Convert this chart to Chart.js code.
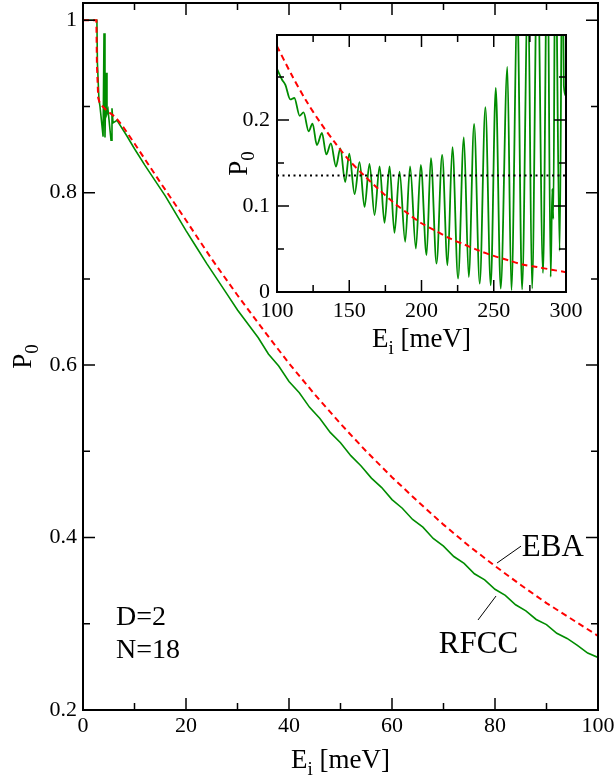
<!DOCTYPE html>
<html>
<head>
<meta charset="utf-8">
<script src="https://cdn.jsdelivr.net/npm/chart.js@4.4.1/dist/chart.umd.min.js"></script>
<style>
  body { margin: 0; background: #fff; }
  #wrap { position: relative; width: 616px; height: 776px; }
  #main { position: absolute; left: 0; top: 0; }
  #inset { position: absolute; left: 200px; top: 0; }
</style>
</head>
<body>
<div id="wrap">
  <canvas id="main" width="616" height="776"></canvas>
  <canvas id="inset" width="416" height="360"></canvas>
</div>
<script>
// ---- main panel, E_i 0..100 meV ----
var ebaE = [0, 2.6, 2.7, 2.95, 3.3, 4.5, 6.2, 7.5, 10, 15, 20, 25, 30, 35, 40, 45, 50,
  55, 60, 65, 70, 75, 80, 85, 90, 95, 100];
var ebaP = [1.0, 1.0, 0.95, 0.91, 0.903, 0.896, 0.888, 0.879, 0.857, 0.812, 0.768, 0.723, 0.681, 0.641, 0.602, 0.566, 0.532,
  0.500, 0.470, 0.442, 0.415, 0.390, 0.367, 0.345, 0.324, 0.305, 0.286];

var rfccE = [0, 2.7, 2.8, 3.1, 3.3, 3.9, 4.08, 4.27, 4.47, 4.66, 4.86, 5.44, 5.63, 5.83, 6.6, 8.5,
  10, 12, 14, 16, 18, 20, 22, 24, 26, 28, 30, 32, 34, 36, 38, 40, 42, 44, 46, 48, 50,
  52, 54, 56, 58, 60, 62, 64, 66, 68, 70, 72, 74, 76, 78, 80, 82, 84, 86, 88, 90,
  92, 94, 96, 98, 100];
var rfccP = [1.0, 1.0, 0.95, 0.908, 0.900, 0.865, 0.985, 0.864, 0.939, 0.892, 0.896, 0.861, 0.898, 0.881, 0.884, 0.866,
  0.851, 0.832, 0.814, 0.796, 0.776, 0.756, 0.737, 0.718, 0.700, 0.682, 0.664, 0.648, 0.632, 0.613, 0.599, 0.581, 0.568, 0.551, 0.538, 0.522, 0.510,
  0.495, 0.483, 0.469, 0.458, 0.444, 0.434, 0.421, 0.412, 0.399, 0.390, 0.378, 0.370, 0.358, 0.351, 0.340, 0.333, 0.322, 0.315, 0.305, 0.299,
  0.289, 0.283, 0.275, 0.266, 0.261];

// ---- inset, E_i 100..300 meV ----
var insetEbaE = [100, 110, 120, 130, 140, 150, 160, 170, 180, 190, 200,
  210, 220, 230, 240, 250, 260, 270, 280, 290, 300];
var insetEbaP = [0.286, 0.253, 0.223, 0.197, 0.174, 0.153, 0.136, 0.120, 0.105, 0.092, 0.080,
  0.071, 0.062, 0.055, 0.048, 0.042, 0.037, 0.032, 0.029, 0.026, 0.023];

var insetRfccE = [100, 103.5, 105.8, 109.2, 112, 115.7, 118.4, 121.9, 124.6, 127.6, 131.1, 134.1, 137.3,
  140.8, 143.8, 147.2, 150, 153.7, 157.1, 160.6, 164, 167.5, 171, 174.4, 177.9, 181.3, 184.8,
  188.7, 192.1, 196.1, 199.5, 203.5, 206.5, 210.4, 214.3, 218, 221.4, 225.3, 229.3, 232.7,
  236.4, 240.3, 244.2, 247.9, 251.4, 254.8, 259.4, 262.2, 266.3, 269.6, 273.7, 276.5, 280.2,
  284.1, 287.1, 289.4, 290.5, 291.2, 292.6, 295.6, 297.5, 298.5, 300];
var insetRfccP = [0.2595, 0.247, 0.241, 0.224, 0.2257, 0.205, 0.209, 0.187, 0.196, 0.171, 0.185, 0.160, 0.173,
  0.146, 0.167, 0.128, 0.161, 0.114, 0.151, 0.099, 0.149, 0.0895, 0.146, 0.0805, 0.146, 0.0689, 0.140,
  0.0584, 0.146, 0.0506, 0.148, 0.0428, 0.1556, 0.0331, 0.1595, 0.0311, 0.1685, 0.0156, 0.180, 0.0175,
  0.1957, 0.0097, 0.2152, 0.0078, 0.2374, 0.0039, 0.2619, 0.002, 0.33, 0.003, 0.36, 0.004, 0.40,
  0.022, 0.42, 0.0175, 0.12, 0.085, 0.42, 0.048, 0.42, 0.24, 0.228];

var dotE = [100, 300];
var dotP = [0.1354, 0.1354];

// tick labels
var mainXLabels = [0, 20, 40, 60, 80, 100];
var mainYLabels = [0.2, 0.4, 0.6, 0.8, 1];
var insetXLabels = [100, 150, 200, 250, 300];
var insetYLabels = [0, 0.1, 0.2];

var GREEN = '#008c00';
var RED = '#ff0000';
var FONT = 'Liberation Serif';

Chart.defaults.font.family = FONT;
Chart.defaults.color = '#000';

function pts(xs, ys) {
  return xs.map(function (x, i) { return { x: x, y: ys[i] }; });
}

function labelFrom(list) {
  return function (v) {
    var r = Math.round(v * 1000) / 1000;
    return list.indexOf(r) >= 0 ? String(r) : '';
  };
}

// keep the plot box where we put it, whatever the label sizes
function fixX(h) {
  return function (s) { s.height = h; s.paddingLeft = 0; s.paddingRight = 0; };
}
function fixY(w) {
  return function (s) { s.width = w; s.paddingTop = 0; s.paddingBottom = 0; };
}

// inward ticks on all four sides plus the box
function drawFrame(chart, major, minor) {
  var ctx = chart.ctx, a = chart.chartArea;
  var xs = chart.scales.x, ys = chart.scales.y;
  ctx.save();
  ctx.strokeStyle = '#000';
  ctx.lineWidth = 1.5;
  ctx.beginPath();
  xs.ticks.forEach(function (t) {
    var px = xs.getPixelForValue(t.value);
    var len = t.label ? major : minor;
    ctx.moveTo(px, a.bottom); ctx.lineTo(px, a.bottom - len);
    ctx.moveTo(px, a.top); ctx.lineTo(px, a.top + len);
  });
  ys.ticks.forEach(function (t) {
    var py = ys.getPixelForValue(t.value);
    var len = t.label ? major : minor;
    ctx.moveTo(a.left, py); ctx.lineTo(a.left + len, py);
    ctx.moveTo(a.right, py); ctx.lineTo(a.right - len, py);
  });
  ctx.stroke();
  ctx.lineWidth = 2;
  ctx.strokeRect(a.left, a.top, a.right - a.left, a.bottom - a.top);
  ctx.restore();
}

// text with a subscript, centred on (x, y) baseline, optionally rotated
function subText(ctx, main, sub, rest, size, x, y, rot) {
  ctx.save();
  ctx.translate(x, y);
  if (rot) ctx.rotate(rot);
  ctx.fillStyle = '#000';
  ctx.textBaseline = 'alphabetic';
  ctx.textAlign = 'left';
  var big = size + 'px ' + FONT, small = Math.round(size * 0.7) + 'px ' + FONT;
  ctx.font = big;
  var w1 = ctx.measureText(main).width;
  var w3 = rest ? ctx.measureText(rest).width : 0;
  ctx.font = small;
  var w2 = ctx.measureText(sub).width;
  var x0 = -(w1 + w2 + w3) / 2;
  ctx.font = big;
  ctx.fillText(main, x0, 0);
  ctx.font = small;
  ctx.fillText(sub, x0 + w1, size * 0.27);
  if (rest) {
    ctx.font = big;
    ctx.fillText(rest, x0 + w1 + w2, 0);
  }
  ctx.restore();
}

var mainDecor = {
  id: 'mainDecor',
  afterDraw: function (chart) {
    var ctx = chart.ctx, xs = chart.scales.x, ys = chart.scales.y, a = chart.chartArea;
    drawFrame(chart, 12, 7);
    subText(ctx, 'E', 'i', ' [meV]', 27, (a.left + a.right) / 2, 768, 0);
    subText(ctx, 'P', '0', '', 27, 31, (a.top + a.bottom) / 2, -Math.PI / 2);

    ctx.save();
    ctx.fillStyle = '#000';
    ctx.textAlign = 'left';
    ctx.textBaseline = 'alphabetic';
    ctx.font = '28px ' + FONT;
    ctx.fillText('D=2', xs.getPixelForValue(6.4), ys.getPixelForValue(0.2986));
    ctx.fillText('N=18', xs.getPixelForValue(6.4), ys.getPixelForValue(0.260));
    ctx.font = '31px ' + FONT;
    ctx.fillText('EBA', xs.getPixelForValue(85.2), ys.getPixelForValue(0.379));
    ctx.fillText('RFCC', xs.getPixelForValue(69.1), ys.getPixelForValue(0.2658));
    ctx.strokeStyle = '#000';
    ctx.lineWidth = 1;
    ctx.beginPath();
    ctx.moveTo(xs.getPixelForValue(80.4), ys.getPixelForValue(0.3705));
    ctx.lineTo(xs.getPixelForValue(85.05), ys.getPixelForValue(0.390));
    ctx.moveTo(xs.getPixelForValue(76.7), ys.getPixelForValue(0.3044));
    ctx.lineTo(xs.getPixelForValue(80.2), ys.getPixelForValue(0.3322));
    ctx.stroke();
    ctx.restore();
  }
};

var insetDecor = {
  id: 'insetDecor',
  afterDraw: function (chart) {
    var ctx = chart.ctx, a = chart.chartArea;
    drawFrame(chart, 12, 7);
    subText(ctx, 'E', 'i', ' [meV]', 27, (a.left + a.right) / 2, 347, 0);
    subText(ctx, 'P', '0', '', 27, a.left - 30, (a.top + a.bottom) / 2, -Math.PI / 2);
  }
};

new Chart(document.getElementById('main'), {
  type: 'line',
  data: {
    datasets: [
      { label: 'EBA', data: pts(ebaE, ebaP), borderColor: RED, borderWidth: 2,
        borderDash: [6, 4], pointRadius: 0, tension: 0 },
      { label: 'RFCC', data: pts(rfccE, rfccP), borderColor: GREEN, borderWidth: 1.6,
        pointRadius: 0, tension: 0 }
    ]
  },
  options: {
    responsive: false,
    animation: false,
    layout: { padding: { left: 0, top: 3, right: 18, bottom: 0 } },
    plugins: { legend: { display: false }, tooltip: { enabled: false } },
    scales: {
      x: {
        type: 'linear', min: 0, max: 100,
        grid: { display: false, drawTicks: false }, border: { display: false },
        ticks: { stepSize: 10, includeBounds: false, autoSkip: false, maxRotation: 0,
          padding: 3, font: { size: 22 }, callback: labelFrom(mainXLabels) },
        afterFit: fixX(66)
      },
      y: {
        type: 'linear', min: 0.2, max: 1.02,
        grid: { display: false, drawTicks: false }, border: { display: false },
        ticks: { stepSize: 0.1, includeBounds: false, autoSkip: false,
          padding: 6, font: { size: 22 }, callback: labelFrom(mainYLabels) },
        afterFit: fixY(83)
      }
    }
  },
  plugins: [mainDecor]
});

new Chart(document.getElementById('inset'), {
  type: 'line',
  data: {
    datasets: [
      { label: 'level', data: pts(dotE, dotP), borderColor: '#000', borderWidth: 2,
        borderDash: [2, 3.5], pointRadius: 0 },
      { label: 'EBA', data: pts(insetEbaE, insetEbaP), borderColor: RED, borderWidth: 2,
        borderDash: [6, 4], pointRadius: 0, tension: 0.3 },
      { label: 'RFCC', data: pts(insetRfccE, insetRfccP), borderColor: GREEN, borderWidth: 1.8,
        pointRadius: 0, cubicInterpolationMode: 'monotone' }
    ]
  },
  options: {
    responsive: false,
    animation: false,
    layout: { padding: { left: 0, top: 35, right: 50, bottom: 0 } },
    plugins: { legend: { display: false }, tooltip: { enabled: false } },
    scales: {
      x: {
        type: 'linear', min: 100, max: 300,
        grid: { display: false, drawTicks: false }, border: { display: false },
        ticks: { stepSize: 25, includeBounds: false, autoSkip: false, maxRotation: 0,
          padding: 6, font: { size: 22 }, callback: labelFrom(insetXLabels) },
        afterFit: fixX(68)
      },
      y: {
        type: 'linear', min: 0, max: 0.299,
        grid: { display: false, drawTicks: false }, border: { display: false },
        ticks: { stepSize: 0.05, includeBounds: false, autoSkip: false,
          padding: 7, font: { size: 22 }, callback: labelFrom(insetYLabels) },
        afterFit: fixY(77)
      }
    }
  },
  plugins: [insetDecor]
});
</script>
</body>
</html>
